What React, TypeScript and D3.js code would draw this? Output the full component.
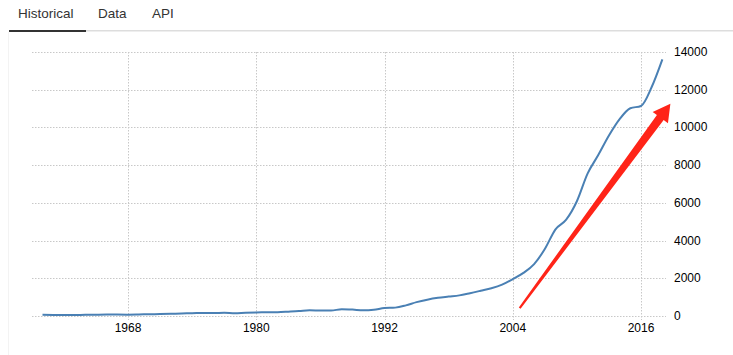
import React from "react";
import * as d3 from "d3";

const years: number[] = d3.range(1960, 2019);
const gdp: number[] = [
  60, 50, 47, 51, 60, 70, 77, 73, 71, 80,
  93, 100, 114, 138, 144, 163, 154, 175, 150, 178,
  191, 196, 205, 231, 260, 300, 295, 290, 360, 340,
  300, 330, 420, 444, 564, 735, 864, 962, 1029, 1094,
  1211, 1339, 1471, 1660, 1955, 2286, 2752, 3552, 4598, 5110,
  6087, 7552, 8532, 9570, 10439, 11016, 11138, 12143, 13608,
];
const xTicks: number[] = [1968, 1980, 1992, 2004, 2016];
const yTicks: number[] = [0, 2000, 4000, 6000, 8000, 10000, 12000, 14000];
const tabs: string[] = ["Historical", "Data", "API"];
// annotation arrow (data coordinates): start and tip
const arrowStart: [number, number] = [2004.65, 420];
const arrowTip: [number, number] = [2018.75, 11250];

const W = 733;
const H = 355;

export default function App() {
  const x = d3.scaleLinear().domain([1968, 2016]).range([128, 641]);
  const y = d3.scaleLinear().domain([0, 14000]).range([316, 52]);
  const line = d3
    .line<number>()
    .x((_, i) => x(years[i]))
    .y((d) => y(d))
    .curve(d3.curveMonotoneX);

  // arrow polygon
  const [sx, sy] = [x(arrowStart[0]), y(arrowStart[1])];
  const [tx, ty] = [x(arrowTip[0]), y(arrowTip[1])];
  const dx = tx - sx, dy = ty - sy;
  const len = Math.hypot(dx, dy);
  const ux = dx / len, uy = dy / len;
  const nx = -uy, ny = ux;
  const headLen = 17, headW = 9.5, shaftEnd = 4.2, shaftStart = 1.1;
  const bx = tx - ux * headLen, by = ty - uy * headLen;
  const pts: [number, number][] = [
    [sx + nx * shaftStart, sy + ny * shaftStart],
    [bx + nx * shaftEnd, by + ny * shaftEnd],
    [bx + nx * headW, by + ny * headW],
    [tx, ty],
    [bx - nx * headW, by - ny * headW],
    [bx - nx * shaftEnd, by - ny * shaftEnd],
    [sx - nx * shaftStart, sy - ny * shaftStart],
  ];
  const tabX = [18, 98, 152];

  return (
    <svg
      width={W}
      height={H}
      style={{ position: "absolute", left: 0, top: 0, background: "#fff" }}
      fontFamily="Arial, 'Liberation Sans', sans-serif"
    >
      {tabs.map((t, i) => (
        <text key={t} x={tabX[i]} y={18} fontSize={13.5} fill="#333">
          {t}
        </text>
      ))}
      <rect x={86} y={30} width={W - 86} height={1.5} fill="#ddd" />
      <rect x={9} y={30} width={77} height={2} fill="#333" />
      <rect x={8} y={32} width={1} height={H - 32} fill="#f3f3f3" />

      {yTicks.map((v) => (
        <g key={v}>
          <line
            x1={32}
            x2={666}
            y1={Math.round(y(v)) + 0.5}
            y2={Math.round(y(v)) + 0.5}
            stroke="#c8c8c8"
            strokeDasharray="1.5,1.5"
          />
          <text x={674} y={y(v) + 4} fontSize={12} fill="#000">
            {v}
          </text>
        </g>
      ))}
      {xTicks.map((v) => (
        <g key={v}>
          <line
            x1={Math.round(x(v)) + 0.5}
            x2={Math.round(x(v)) + 0.5}
            y1={52}
            y2={320}
            stroke="#c8c8c8"
            strokeDasharray="1.5,1.5"
          />
          <text x={x(v)} y={332} fontSize={12} fill="#000" textAnchor="middle">
            {v}
          </text>
        </g>
      ))}

      <path d={line(gdp) || ""} fill="none" stroke="#4a80b4" strokeWidth={2} />
      <polygon points={pts.map((p) => p.join(",")).join(" ")} fill="#ff2418" />
    </svg>
  );
}
